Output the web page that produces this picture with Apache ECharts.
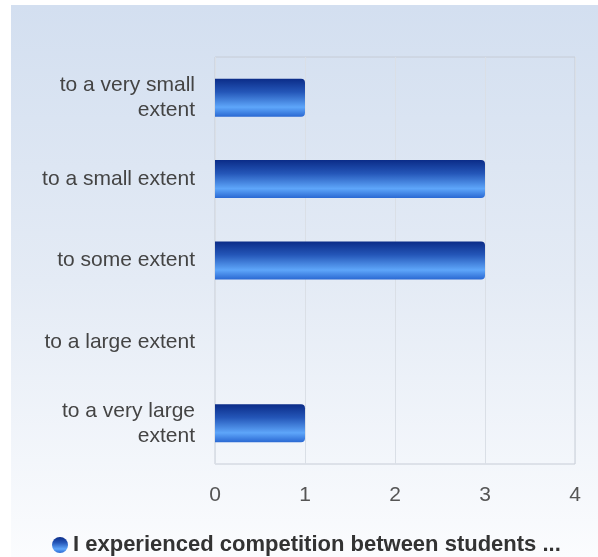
<!DOCTYPE html>
<html>
<head>
<meta charset="utf-8">
<script src="https://cdn.jsdelivr.net/npm/echarts@6/dist/echarts.min.js"></script>
<style>
html,body{margin:0;padding:0;background:#fff;}
#chart{width:598px;height:557px;}
</style>
</head>
<body>
<div id="chart"></div>
<script>
const categories = ["to a very small extent", "to a small extent", "to some extent", "to a large extent", "to a very large extent"];
const values = [1, 3, 3, 0, 1];
const xTicks = [0, 1, 2, 3, 4];
const seriesName = "I experienced competition between students ...";

const chart = echarts.init(document.getElementById('chart'), null, {renderer: 'canvas'});
const barGradient = new echarts.graphic.LinearGradient(0, 0, 0, 1, [
  {offset: 0, color: '#0b2c88'},
  {offset: 0.35, color: '#2456b8'},
  {offset: 0.75, color: '#5ea6fa'},
  {offset: 1, color: '#2a68d2'}
]);
chart.setOption({
  animation: false,
  backgroundColor: '#ffffff',
  graphic: [{
    type: 'rect',
    z: -10,
    silent: true,
    shape: {x: 11, y: 5, width: 587, height: 552},
    style: {
      fill: new echarts.graphic.LinearGradient(0, 0, 0, 1, [
        {offset: 0, color: '#d3dff0'},
        {offset: 0.5, color: '#e4ebf5'},
        {offset: 1, color: '#fbfcfe'}
      ])
    }
  }],
  grid: {
    left: 215, right: 23, top: 57, bottom: 93,
    show: true,
    borderColor: '#c6ccd6',
    borderWidth: 1,
    backgroundColor: 'transparent'
  },
  legend: {
    data: [{name: seriesName, icon: 'circle'}],
    left: 47,
    top: 529,
    padding: 5,
    itemWidth: 16,
    itemHeight: 16,
    itemGap: 10,
    textStyle: {fontFamily: 'Liberation Sans', fontSize: 22, fontWeight: 'bold', color: '#333333'}
  },
  xAxis: {
    type: 'value',
    min: 0,
    max: 4,
    interval: 1,
    axisLine: {show: false},
    axisTick: {show: false},
    splitLine: {show: true, lineStyle: {color: '#dadfe6', width: 1}},
    axisLabel: {
      margin: 21,
      fontFamily: 'Liberation Sans',
      fontSize: 21,
      color: '#555555',
      formatter: function (v) { return xTicks.indexOf(v) >= 0 ? String(v) : ''; }
    }
  },
  yAxis: {
    type: 'category',
    data: categories,
    inverse: true,
    axisLine: {show: false},
    axisTick: {show: false},
    splitLine: {show: false},
    axisLabel: {
      margin: 20,
      lineHeight: 25,
      align: 'right',
      fontFamily: 'Liberation Sans',
      fontSize: 21,
      color: '#444444',
      formatter: function (v) { return v.length > 18 ? v.replace(/ (extent)$/, '\n$1') : v; }
    }
  },
  series: [{
    name: seriesName,
    type: 'bar',
    data: values,
    barWidth: 38,
    itemStyle: {
      color: barGradient,
      borderRadius: [0, 4, 4, 0]
    }
  }]
});
</script>
</body>
</html>
